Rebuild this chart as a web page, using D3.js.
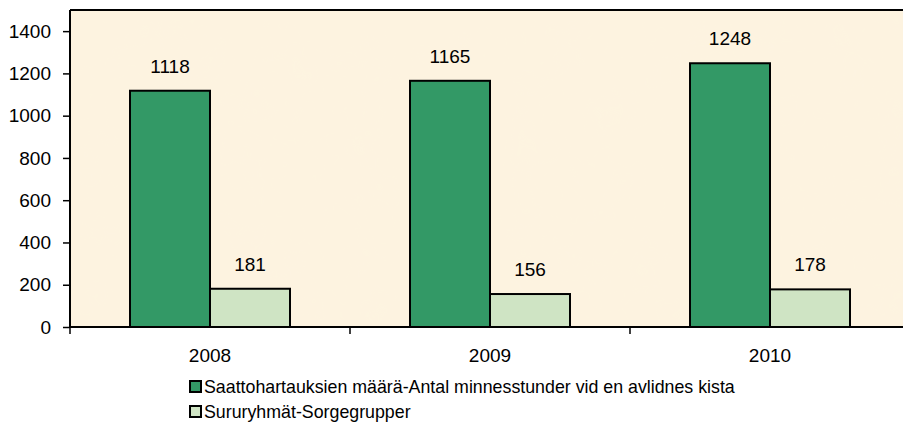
<!DOCTYPE html>
<html>
<head>
<meta charset="utf-8">
<script src="https://cdn.jsdelivr.net/npm/d3@7"></script>
<style>
  body { margin: 0; background: #fff; }
  text { font-family: "Liberation Sans", Arial, sans-serif; fill: #000; }
</style>
</head>
<body>
<div id="chart-area"></div>
<script>
// data
var years = ["2008", "2009", "2010"];
var seriesNames = ["Saattohartauksien määrä-Antal minnesstunder vid en avlidnes kista", "Sururyhmät-Sorgegrupper"];
var memorials = [1118, 1165, 1248];
var groups = [181, 156, 178];
var yTicks = [0, 200, 400, 600, 800, 1000, 1200, 1400];
var colors = ["#339966", "#cfe4c4"];

var svg = d3.select("#chart-area").append("svg").attr("width", 903).attr("height", 428);
var margin = {left: 70, top: 10};
var width = 840;
var height = 317;

var x = d3.scaleBand().domain(years).range([0, width]);
var y = d3.scaleLinear().domain([0, 1500]).range([height, 0]);

var g = svg.append("g")
	.attr("transform", "translate(" + margin.left + ", " + margin.top + ")");

// parchment background
var defs = svg.append("defs");
var filt = defs.append("filter").attr("id", "paper").attr("x", 0).attr("y", 0).attr("width", 1).attr("height", 1);
filt.append("feTurbulence").attr("type", "fractalNoise").attr("baseFrequency", 0.025).attr("numOctaves", 3).attr("seed", 4);
filt.append("feColorMatrix").attr("values", "0 0 0 0 0.98  0 0 0 0 0.92  0 0 0 0 0.76  0 0 0 0.22 -0.05");
filt.append("feComposite").attr("in2", "SourceGraphic").attr("operator", "in");

g.append("rect").attr("width", width).attr("height", height).attr("fill", "#fdf3e0");
g.append("rect").attr("width", width).attr("height", height).attr("fill", "#fff").attr("filter", "url(#paper)");

// bars
var barW = 80;
var rows = years.map((d, i) => ({year: d, vals: [memorials[i], groups[i]]}));

rows.forEach(r => {
	r.vals.forEach((v, j) => {
		var bx = x(r.year) + x.bandwidth() / 2 - barW + j * barW;
		g.append("rect")
			.attr("x", bx)
			.attr("y", y(v))
			.attr("width", barW)
			.attr("height", height - y(v))
			.attr("fill", colors[j])
			.attr("stroke", "#000")
			.attr("stroke-width", 2);
		g.append("text")
			.attr("x", bx + barW / 2)
			.attr("y", y(v) - 18)
			.attr("text-anchor", "middle")
			.attr("font-size", "19px")
			.text(v);
	});
});

// frame top
g.append("line").attr("x1", 0).attr("x2", width).attr("y1", 0).attr("y2", 0)
	.attr("stroke", "#000").attr("stroke-width", 2);

// axes
var leftAxis = d3.axisLeft(y).tickValues(yTicks).tickFormat(d3.format("d")).tickSize(7).tickPadding(12);
var la = g.append("g").call(leftAxis);
la.select(".domain").attr("stroke-width", 2).attr("d", "M0," + height + "V0");
la.selectAll(".tick line").attr("stroke-width", 1.5);
la.selectAll("text").attr("font-size", "19px").attr("font-family", "Liberation Sans, Arial, sans-serif");

var ba = g.append("g").attr("transform", "translate(0," + height + ")");
ba.append("line").attr("x1", 0).attr("x2", width).attr("stroke", "#000").attr("stroke-width", 2);
years.forEach(d => {
	ba.append("line").attr("x1", x(d)).attr("x2", x(d)).attr("y1", 0).attr("y2", 7)
		.attr("stroke", "#000").attr("stroke-width", 1.5);
	ba.append("text")
		.attr("x", x(d) + x.bandwidth() / 2)
		.attr("y", 35)
		.attr("text-anchor", "middle")
		.attr("font-size", "19px")
		.text(d);
});

// legend
var legend = svg.append("g").attr("transform", "translate(189, 380)");
seriesNames.forEach((name, i) => {
	var lg = legend.append("g").attr("transform", "translate(0," + (i * 25) + ")");
	lg.append("rect").attr("x", 1).attr("y", 1).attr("width", 11).attr("height", 11)
		.attr("fill", colors[i]).attr("stroke", "#000").attr("stroke-width", 2);
	lg.append("text").attr("x", 15).attr("y", 13).attr("font-size", "17.8px").text(name);
});
</script>
</body>
</html>
